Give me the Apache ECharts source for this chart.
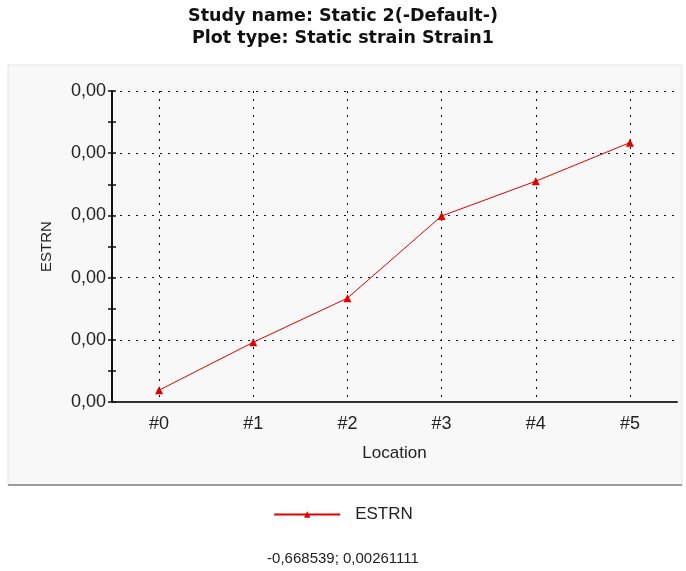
<!DOCTYPE html>
<html>
<head>
  <meta charset="utf-8">
  <title>Static strain</title>
  <script src="https://cdn.jsdelivr.net/npm/echarts@6/dist/echarts.min.js"></script>
  <style>
    html, body { margin: 0; padding: 0; background: #fff; }
    #main { width: 686px; height: 571px; }
  </style>
</head>
<body>
<div id="main"></div>
<script>
// data
var locations = ['#0', '#1', '#2', '#3', '#4', '#5'];
var estrn = [0.000019, 0.000096, 0.000167, 0.000299, 0.000355, 0.000417];
var titleLines = ['Study name: Static 2(-Default-)', 'Plot type: Static strain Strain1'];
var cursorText = '-0,668539; 0,00261111';

var font = 'Liberation Sans, Arial, sans-serif';
var dotted = { color: '#111', type: [2, 6], width: 1 };
var myChart = echarts.init(document.getElementById('main'));

var option = {
  backgroundColor: '#fff',
  animation: false,
  title: [{
    text: titleLines.join('\n'),
    left: 'center',
    top: 0,
    textStyle: { fontFamily: 'DejaVu Sans', fontSize: 17.5, fontWeight: 'bold', color: '#111', lineHeight: 22 }
  }, {
    text: cursorText,
    left: 'center',
    top: 546,
    textStyle: { fontFamily: font, fontSize: 15, fontWeight: 'normal', color: '#222' }
  }],
  graphic: [{
    type: 'rect',
    z: -10,
    shape: { x: 8, y: 65, width: 674, height: 420 },
    style: { fill: '#f8f8f8', stroke: '#e4e4e4', lineWidth: 1 }
  }, {
    type: 'line',
    z: -9,
    shape: { x1: 8, y1: 485, x2: 682, y2: 485 },
    style: { stroke: '#9c9c9c', lineWidth: 2 }
  }],
  legend: {
    data: ['ESTRN'],
    bottom: 43,
    left: 'center',
    itemWidth: 66,
    itemHeight: 8,
    textStyle: { fontFamily: font, fontSize: 17, color: '#222', padding: [0, 0, 0, 10] }
  },
  grid: { left: 112, right: 9, top: 91, bottom: 169 },
  xAxis: [{
    type: 'category',
    data: locations,
    boundaryGap: true,
    name: 'Location',
    nameLocation: 'middle',
    nameGap: 43,
    nameTextStyle: { fontFamily: font, fontSize: 17, color: '#222' },
    axisLine: { lineStyle: { color: '#333', width: 2 } },
    axisTick: { alignWithLabel: true, length: 5, lineStyle: { color: '#222', width: 1.5 } },
    axisLabel: { fontFamily: font, fontSize: 18, color: '#222', margin: 13 },
    splitLine: { show: true, alignWithLabel: true, lineStyle: dotted }
  }, {
    // second pass of the same axis, for the inner half of the crossing ticks
    type: 'category',
    data: locations,
    position: 'bottom',
    boundaryGap: true,
    axisLine: { show: false },
    axisTick: { alignWithLabel: true, inside: true, length: 3, lineStyle: { color: '#222', width: 1.5 } },
    axisLabel: { show: false },
    splitLine: { show: false }
  }],
  yAxis: [{
    type: 'value',
    min: 0,
    max: 0.0005,
    interval: 0.0001,
    name: 'ESTRN',
    nameLocation: 'middle',
    nameGap: 58,
    nameTextStyle: { fontFamily: font, fontSize: 15, color: '#222' },
    axisLine: { show: true, lineStyle: { color: '#111', width: 2 } },
    axisTick: { show: true, length: 4, lineStyle: { color: '#111', width: 1.5 } },
    minorTick: { show: true, splitNumber: 2, length: 4, lineStyle: { color: '#111', width: 1.5 } },
    axisLabel: {
      fontFamily: font, fontSize: 18, color: '#222', margin: 6,
      formatter: function (v) { return v.toFixed(2).replace('.', ','); }
    },
    splitLine: { show: true, lineStyle: dotted }
  }, {
    type: 'value',
    position: 'left',
    min: 0,
    max: 0.0005,
    interval: 0.0001,
    axisLine: { show: false },
    axisTick: { show: true, inside: true, length: 4, lineStyle: { color: '#111', width: 1.5 } },
    minorTick: { show: true, splitNumber: 2, length: 4, lineStyle: { color: '#111', width: 1.5 } },
    axisLabel: { show: false },
    splitLine: { show: false }
  }],
  series: [{
    name: 'ESTRN',
    type: 'line',
    data: estrn,
    symbol: 'triangle',
    symbolSize: 8,
    itemStyle: { color: '#e00000' },
    lineStyle: { color: '#e00000', width: 1 }
  }]
};

myChart.setOption(option);
</script>
</body>
</html>
